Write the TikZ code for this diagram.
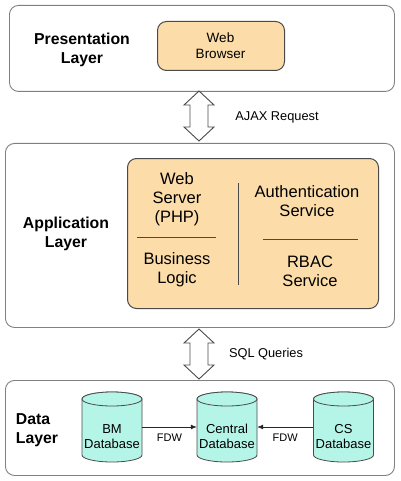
\documentclass[tikz,border=0pt]{standalone}
\usepackage{fontspec}
\setmainfont{Liberation Sans}
\usetikzlibrary{arrows.meta}
\definecolor{orng}{HTML}{FCDCA8}
\definecolor{cyl}{HTML}{B5F5E8}
\definecolor{edge}{HTML}{4A4A4A}
\definecolor{layeredge}{HTML}{808080}
\tikzset{
  layerbox/.style={draw=layeredge, line width=0.9pt, rounded corners=9pt, fill=white, inner sep=0pt},
  orangebox/.style={draw=edge, line width=1pt, rounded corners=9pt, fill=orng, inner sep=0pt},
  layerlabel/.style={font=\bfseries\fontsize{15.8}{19}\selectfont, align=center, text=black},
  inner/.style={font=\fontsize{16.5}{19}\selectfont, align=center, text=black},
  small/.style={font=\fontsize{13.5}{16}\selectfont, align=center, text=black},
  annot/.style={font=\fontsize{12.8}{15}\selectfont, text=black},
  dbtext/.style={font=\fontsize{13}{15}\selectfont, align=center, text=black},
  cylfill/.style={draw=edge, line width=0.8pt, fill=cyl},
  dblarw/.style={draw=edge, line width=0.9pt, fill=white, line join=miter},
  fdwline/.style={draw=black!85, line width=0.8pt, -{Latex[length=6pt,width=5pt]}},
  sepline/.style={draw=edge, line width=1pt}
}
\newcommand\dbcyl[3]{%
  \node[minimum width=60pt, minimum height=70pt, inner sep=0pt] (#1) at (#2,427) {};
  \path[cylfill] (#2-30,399) -- (#2-30,455) arc[start angle=180,end angle=0,x radius=30,y radius=7] -- (#2+30,399) arc[start angle=0,end angle=-180,x radius=30,y radius=7] -- cycle;
  \draw[cylfill] (#2,399) ellipse[x radius=30,y radius=7];
  \node[dbtext] (#1t) at (#2,436.5) {#3};
}
\newcommand\dblarrow[3]{%
  \path[dblarw] (#1,#2) -- (#1+15,#2+14) -- (#1+9,#2+14) -- (#1+9,#3-14) -- (#1+15,#3-14) -- (#1,#3) -- (#1-15,#3-14) -- (#1-9,#3-14) -- (#1-9,#2+14) -- (#1-15,#2+14) -- cycle;
}
\begin{document}
\begin{tikzpicture}[x=1pt,y=-1pt]
\useasboundingbox (0,0) rectangle (400,481);
% layers
\node[layerbox, anchor=north west, minimum width=385pt, minimum height=86pt] (pres) at (9,5) {};
\node[layerbox, anchor=north west, minimum width=389pt, minimum height=184pt] (app) at (5,143) {};
\node[layerbox, anchor=north west, minimum width=389pt, minimum height=95pt] (data) at (5,380) {};
% presentation
\node[layerlabel] (preslbl) at (82,50) {Presentation\\Layer};
\node[orangebox, anchor=north west, minimum width=127pt, minimum height=49pt] (browser) at (157,21) {};
\node[small] (browsert) at (220.5,45.5) {Web\\Browser};
% arrows between layers
\dblarrow{199}{91}{141}
\node[annot] (ajax) at (277,117) {AJAX Request};
\dblarrow{199}{329}{379}
\node[annot] (sql) at (266,354) {SQL Queries};
% application
\node[layerlabel] (applbl) at (66,233.5) {Application\\Layer};
\node[orangebox, anchor=north west, minimum width=251pt, minimum height=150pt] (appbox) at (127,158) {};
\draw[sepline] (238.5,183) -- (238.5,285);
\draw[sepline] (137,237) -- (216,237);
\draw[sepline] (263,239) -- (358,239);
\node[inner] (websrv) at (177,199) {Web\\Server\\(PHP)};
\node[inner] (biz) at (177,269.5) {Business\\Logic};
\node[inner] (auth) at (307,201.5) {Authentication\\Service};
\node[inner] (rbac) at (310,271) {RBAC\\Service};
% data
\node[layerlabel, align=left] (datalbl) at (37,430.5) {Data\\Layer};
\dbcyl{bm}{112}{BM\\Database}
\dbcyl{central}{227}{Central\\Database}
\dbcyl{cs}{343.5}{CS\\Database}
\draw[fdwline] (bm.east) -- (central.west) node[midway, below=3pt, font=\fontsize{11}{13}\selectfont] {FDW};
\draw[fdwline] (cs.west) -- (central.east) node[midway, below=3pt, font=\fontsize{11}{13}\selectfont] {FDW};
\end{tikzpicture}
\end{document}
